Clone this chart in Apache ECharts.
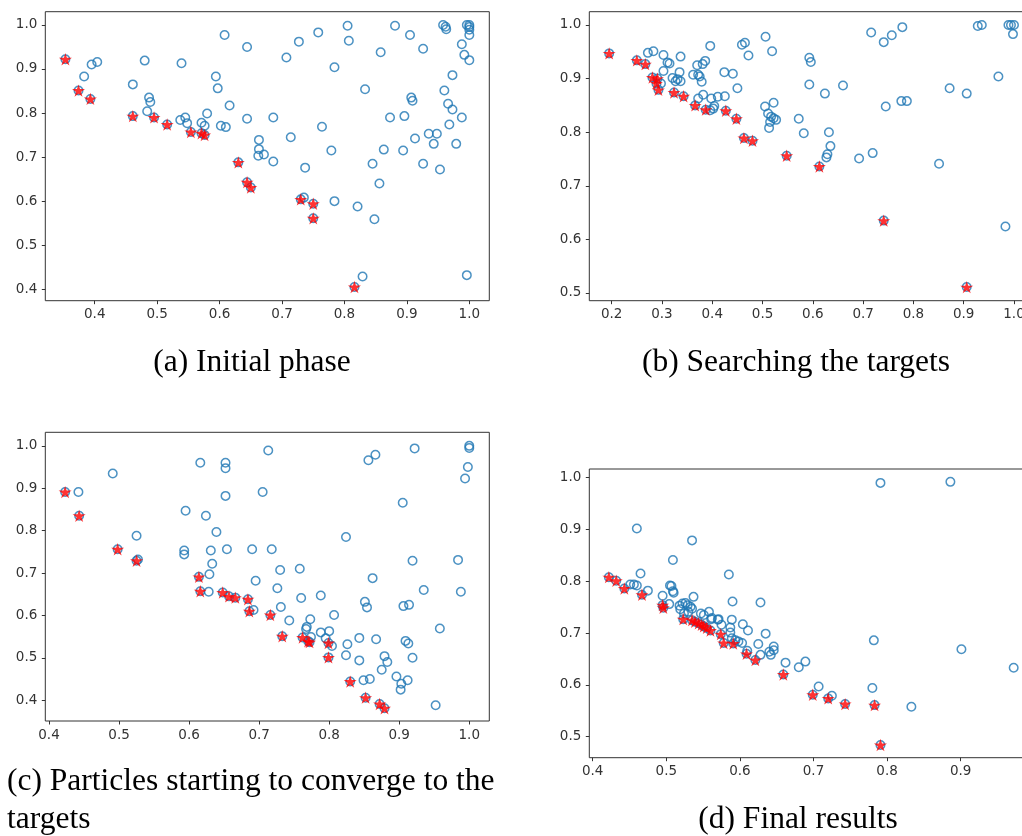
<!DOCTYPE html>
<html>
<head>
<meta charset="utf-8">
<script src="https://cdn.jsdelivr.net/npm/echarts@6/dist/echarts.min.js"></script>
<style>
html,body{margin:0;padding:0;background:#fff;}
#chart{width:1022px;height:836px;}
</style>
</head>
<body>
<div id="chart"></div>
<script>
// ---------- Panel (a): Initial phase ----------
var aBlue = [[0.383,0.883],[0.395,0.910],[0.404,0.916],[0.461,0.865],[0.480,0.919],[0.487,0.835],[0.489,0.825],[0.484,0.804],[0.539,0.913],[0.537,0.784],[0.545,0.790],[0.548,0.777],[0.571,0.778],[0.576,0.771],[0.580,0.799],[0.594,0.883],[0.597,0.856],[0.608,0.977],[0.602,0.771],[0.610,0.768],[0.616,0.817],[0.644,0.950],[0.644,0.787],
[0.663,0.739],[0.663,0.718],[0.662,0.703],[0.671,0.706],[0.686,0.790],[0.686,0.690],[0.707,0.926],[0.714,0.745],[0.727,0.962],[0.737,0.676],[0.735,0.608],[0.758,0.983],[0.764,0.769],[0.779,0.715],[0.784,0.904],[0.784,0.600],[0.805,0.998],[0.807,0.964],[0.821,0.588],[0.829,0.429],[0.833,0.854],[0.845,0.685],[0.848,0.559],[0.856,0.640],[0.858,0.938],[0.863,0.717],[0.873,0.790],[0.881,0.998],[0.894,0.715],[0.896,0.793],[0.905,0.977],[0.907,0.835],[0.909,0.828],[0.913,0.742],[0.926,0.946],[0.926,0.685],[0.935,0.753],[0.943,0.730],[0.948,0.753],[0.953,0.672],[0.958,1.0],[0.962,0.996],[0.963,0.990],[0.960,0.851],[0.966,0.821],[0.968,0.774],[0.973,0.886],[0.973,0.808],[0.979,0.730],[0.988,0.790],[0.988,0.956],[0.992,0.932],[0.996,0.432],[0.996,1.0],[1.0,1.0],[1.0,0.995],[1.0,0.989],[1.0,0.977],[1.0,0.920]];
var aRed = [[0.353,0.922],[0.374,0.851],[0.393,0.832],[0.461,0.793],[0.495,0.790],[0.516,0.774],[0.554,0.757],[0.571,0.754],[0.576,0.750],[0.630,0.688],[0.644,0.643],[0.650,0.631],[0.730,0.604],[0.750,0.594],[0.750,0.561],[0.816,0.405]];

// ---------- Panel (b): Searching the targets ----------
var bBlue = [[0.272,0.948],[0.283,0.951],[0.303,0.944],[0.311,0.930],[0.315,0.928],[0.303,0.914],[0.298,0.891],[0.321,0.901],[0.327,0.895],[0.331,0.899],[0.337,0.895],[0.335,0.912],[0.337,0.941],[0.362,0.907],[0.370,0.925],[0.372,0.907],[0.375,0.904],[0.379,0.894],[0.381,0.927],[0.386,0.933],[0.396,0.961],[0.372,0.863],[0.382,0.870],[0.396,0.841],[0.402,0.844],[0.404,0.849],[0.398,0.863],[0.411,0.866],[0.425,0.867],[0.424,0.912],[0.441,0.909],[0.450,0.882],[0.459,0.963],[0.465,0.967],[0.472,0.943],[0.506,0.978],[0.519,0.951],[0.505,0.848],[0.522,0.855],[0.511,0.835],[0.517,0.829],[0.527,0.823],[0.515,0.819],[0.513,0.808],[0.522,0.826],
[0.572,0.825],[0.582,0.798],[0.593,0.939],[0.596,0.931],[0.593,0.889],[0.624,0.872],[0.632,0.800],[0.635,0.774],[0.629,0.759],[0.627,0.753],[0.660,0.887],[0.692,0.751],[0.719,0.761],[0.716,0.986],[0.741,0.968],[0.757,0.981],[0.778,0.996],[0.745,0.848],[0.776,0.858],[0.787,0.858],[0.851,0.741],[0.872,0.882],[0.906,0.872],[0.928,0.998],[0.936,1.0],[0.969,0.904],[0.983,0.624],[0.989,1.0],[0.994,1.0],[1.0,1.0],[0.998,0.983]];
var bRed = [[0.195,0.947],[0.250,0.934],[0.267,0.927],[0.281,0.902],[0.291,0.900],[0.289,0.891],[0.293,0.879],[0.324,0.874],[0.343,0.867],[0.366,0.850],[0.387,0.842],[0.427,0.840],[0.448,0.825],[0.463,0.789],[0.480,0.784],[0.548,0.756],[0.613,0.736],[0.741,0.635],[0.906,0.511]];

// ---------- Panel (c): Particles starting to converge ----------
var cBlue = [[0.442,0.891],[0.491,0.935],[0.525,0.788],[0.527,0.732],[0.595,0.847],[0.593,0.753],[0.593,0.744],[0.616,0.960],[0.624,0.835],[0.631,0.753],[0.633,0.722],[0.629,0.697],[0.628,0.656],[0.639,0.797],[0.652,0.960],[0.652,0.947],[0.652,0.882],[0.654,0.756],[0.690,0.756],[0.695,0.682],[0.692,0.613],[0.705,0.891],[0.713,0.989],[0.718,0.756],[0.730,0.707],[0.726,0.664],[0.731,0.620],[0.743,0.588],[0.758,0.710],[0.760,0.641],[0.767,0.568],[0.768,0.573],[0.773,0.591],[0.774,0.549],[0.788,0.647],[0.788,0.560],[0.800,0.563],[0.795,0.546],[0.804,0.528],[0.807,0.601],[0.824,0.785],[0.826,0.532],[0.824,0.506],[0.843,0.547],[0.843,0.494],[0.851,0.632],[0.854,0.619],[0.849,0.447],[0.858,0.450],[0.856,0.966],[0.866,0.979],[0.862,0.688],[0.867,0.544],[0.875,0.472],[0.879,0.504],[0.883,0.490],[0.896,0.456],[0.903,0.439],[0.902,0.425],[0.912,0.447],[0.905,0.866],[0.906,0.622],[0.914,0.625],[0.909,0.540],[0.913,0.534],[0.919,0.729],[0.919,0.500],[0.922,0.994],[0.935,0.660],[0.952,0.388],[0.958,0.569],[0.984,0.731],[0.988,0.656],[0.994,0.923],[0.998,0.950],[1.0,1.0],[1.0,0.995]];
var cRed = [[0.423,0.891],[0.443,0.835],[0.498,0.756],[0.525,0.729],[0.614,0.691],[0.616,0.657],[0.648,0.654],[0.657,0.645],[0.666,0.642],[0.684,0.638],[0.686,0.610],[0.716,0.601],[0.733,0.551],[0.762,0.548],[0.770,0.539],[0.772,0.537],[0.799,0.535],[0.799,0.501],[0.830,0.444],[0.852,0.406],[0.872,0.391],[0.879,0.381]];

// ---------- Panel (d): Final results ----------
var dBlue = [[0.460,0.902],[0.465,0.815],[0.451,0.794],[0.456,0.794],[0.460,0.792],[0.475,0.782],[0.495,0.772],[0.509,0.841],[0.505,0.792],[0.507,0.791],[0.509,0.781],[0.510,0.778],[0.504,0.756],[0.535,0.879],[0.518,0.753],[0.522,0.757],[0.526,0.758],[0.529,0.754],[0.533,0.751],[0.537,0.770],[0.535,0.747],[0.530,0.741],[0.524,0.738],[0.519,0.746],[0.547,0.738],[0.551,0.735],[0.558,0.741],[0.561,0.727],[0.562,0.729],[0.570,0.726],[0.575,0.716],[0.571,0.727],[0.589,0.726],[0.585,0.813],[0.590,0.761],[0.587,0.711],[0.587,0.701],[0.589,0.690],[0.594,0.686],[0.598,0.684],[0.603,0.681],[0.604,0.717],[0.611,0.705],[0.610,0.666],[0.625,0.679],[0.628,0.759],[0.628,0.658],[0.635,0.699],[0.640,0.664],[0.642,0.658],[0.646,0.667],[0.646,0.674],[0.662,0.643],[0.680,0.634],[0.689,0.645],[0.707,0.597],[0.725,0.579],[0.780,0.594],[0.782,0.686],[0.791,0.990],[0.886,0.992],[0.901,0.669],[0.833,0.558],[0.972,0.633]];
var dRed = [[0.422,0.808],[0.432,0.801],[0.443,0.786],[0.467,0.774],[0.495,0.754],[0.496,0.749],[0.523,0.727],[0.535,0.725],[0.539,0.722],[0.544,0.719],[0.548,0.716],[0.551,0.713],[0.555,0.710],[0.560,0.705],[0.574,0.698],[0.578,0.681],[0.591,0.680],[0.609,0.660],[0.621,0.648],[0.659,0.620],[0.699,0.581],[0.720,0.574],[0.743,0.563],[0.783,0.561],[0.791,0.484]];

// ---------- Tick labels ----------
var aXTicks = [0.4,0.5,0.6,0.7,0.8,0.9,1.0];
var aYTicks = [0.4,0.5,0.6,0.7,0.8,0.9,1.0];
var bXTicks = [0.2,0.3,0.4,0.5,0.6,0.7,0.8,0.9,1.0];
var bYTicks = [0.5,0.6,0.7,0.8,0.9,1.0];
var cXTicks = [0.4,0.5,0.6,0.7,0.8,0.9,1.0];
var cYTicks = [0.4,0.5,0.6,0.7,0.8,0.9,1.0];
var dXTicks = [0.4,0.5,0.6,0.7,0.8,0.9];
var dYTicks = [0.5,0.6,0.7,0.8,0.9,1.0];

var captions = ['(a) Initial phase','(b) Searching the targets','(c) Particles starting to converge to the','targets','(d) Final results'];

// ---------- Layout ----------
var grids = [
  {left:45.3, top:11.7, width:444, height:289},
  {left:589.3, top:11.7, width:444.7, height:289},
  {left:45.3, top:432.3, width:444, height:288.7},
  {left:589.3, top:469, width:444.7, height:288.7}
];
var xRanges = [[0.3208,1.032],[0.1555,1.0398],[0.3947,1.0286],[0.3954,0.9996]];
var yRanges = [[0.374,1.030],[0.4856,1.0248],[0.351,1.032],[0.4595,1.0168]];
var xTicks = [aXTicks,bXTicks,cXTicks,dXTicks];
var yTicks = [aYTicks,bYTicks,cYTicks,dYTicks];
var blues = [aBlue,bBlue,cBlue,dBlue];
var reds = [aRed,bRed,cRed,dRed];

var starPath = 'path://M0,-100 L22.45,-30.9 L95.1,-30.9 L36.3,11.8 L58.8,80.9 L0,38.2 L-58.8,80.9 L-36.3,11.8 L-95.1,-30.9 L-22.45,-30.9 Z';
var axisColor = '#333';
var labelStyle = {color:'#333', fontSize:13.5, fontFamily:'DejaVu Sans'};

function fmt(v){ return (+v).toFixed(1); }

var option = {
  animation:false,
  backgroundColor:'#fff',
  grid: grids.map(function(g){
    return {left:g.left, top:g.top, width:g.width, height:g.height, show:true, borderColor:axisColor, borderWidth:1, backgroundColor:'transparent', containLabel:false, outerBoundsMode:'none'};
  }),
  xAxis: grids.map(function(g,i){
    return {type:'value', gridIndex:i, min:xRanges[i][0], max:xRanges[i][1],
      axisLine:{show:false}, splitLine:{show:false},
      axisTick:{show:true, inside:false, length:3.5, lineStyle:{color:axisColor, width:1}, customValues:xTicks[i]},
      axisLabel:Object.assign({margin:7, formatter:fmt, customValues:xTicks[i], hideOverlap:false}, labelStyle)};
  }),
  yAxis: grids.map(function(g,i){
    return {type:'value', gridIndex:i, min:yRanges[i][0], max:yRanges[i][1],
      axisLine:{show:false}, splitLine:{show:false},
      axisTick:{show:true, inside:false, length:3.5, lineStyle:{color:axisColor, width:1}, customValues:yTicks[i]},
      axisLabel:Object.assign({margin:8, formatter:fmt, customValues:yTicks[i]}, labelStyle)};
  }),
  series: [],
  graphic: []
};

for (var i=0;i<4;i++){
  option.series.push({
    type:'scatter', xAxisIndex:i, yAxisIndex:i,
    data: blues[i].concat(reds[i]),
    symbol:'circle', symbolSize:8.5,
    itemStyle:{color:'rgba(0,0,0,0)', borderColor:'#1f77b4', borderWidth:1.5},
    silent:true, z:2
  });
  option.series.push({
    type:'scatter', xAxisIndex:i, yAxisIndex:i,
    data: reds[i],
    symbol:starPath, symbolSize:13, symbolKeepAspect:true,
    itemStyle:{color:'#ff0000'},
    silent:true, z:3
  });
}

var capFont = '31.5px "Liberation Serif", "Times New Roman", serif';
var capPos = [
  {x:252, y:363, align:'center'},
  {x:796, y:363, align:'center'},
  {x:7, y:782, align:'left'},
  {x:7, y:820, align:'left'},
  {x:798, y:820, align:'center'}
];
captions.forEach(function(t,k){
  option.graphic.push({
    type:'text', x:capPos[k].x, y:capPos[k].y, z:10,
    style:{text:t, font:capFont, fill:'#000', align:capPos[k].align, verticalAlign:'middle', textAlign:capPos[k].align, textVerticalAlign:'middle'}
  });
});

var chart = echarts.init(document.getElementById('chart'), null, {renderer:'canvas'});
chart.setOption(option);
</script>
</body>
</html>
